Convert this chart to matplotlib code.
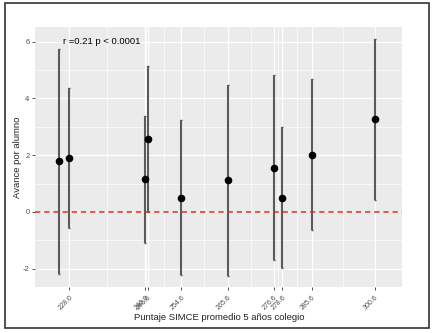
import matplotlib.pyplot as plt
from matplotlib.patches import Rectangle
import numpy as np

plt.rcParams['font.family'] = ['Liberation Sans', 'DejaVu Sans']
plt.rcParams['axes.unicode_minus'] = False

# data
simce = [225.5, 228.0, 246.0, 246.6, 254.6, 265.6, 276.6, 278.6, 285.6, 300.6]
avance = [1.78, 1.89, 1.15, 2.58, 0.49, 1.11, 1.56, 0.49, 2.01, 3.26]
ci_low = [-2.18, -0.56, -1.08, 0.0, -2.24, -2.27, -1.71, -1.98, -0.65, 0.41]
ci_high = [5.73, 4.35, 3.39, 5.16, 3.24, 4.47, 4.82, 3.00, 4.67, 6.09]
x_ticks = [228.0, 246.0, 246.6, 254.6, 265.6, 276.6, 278.6, 285.6, 300.6]
y_ticks = [-2, 0, 2, 4, 6]

fig = plt.figure(figsize=(4.34, 3.33), dpi=100)
ax = fig.add_axes([0.0806, 0.138, 0.8464, 0.782])
ax.set_facecolor("#EBEBEB")

# ggplot-like grid
for y in y_ticks:
    ax.axhline(y, color="white", lw=0.9, zorder=0)
for y in [-1, 1, 3, 5]:
    ax.axhline(y, color="white", lw=0.45, zorder=0)
for x in x_ticks:
    ax.axvline(x, color="white", lw=0.9, zorder=0)
for a, b in zip(x_ticks[:-1], x_ticks[1:]):
    ax.axvline((a + b) / 2, color="white", lw=0.45, zorder=0)

lo = np.array(avance) - np.array(ci_low)
hi = np.array(ci_high) - np.array(avance)
ax.errorbar(simce, avance, yerr=[lo, hi], fmt="none", ecolor="#5a5a5a",
            elinewidth=1.5, capsize=1, capthick=1, zorder=2)
ax.scatter(simce, avance, s=20, color="black", zorder=3)

ax.axhline(0, color="#E8281E", lw=1.1, ls=(0, (3.5, 2.5)), zorder=2)

ax.text(226.5, 6.0, "r =0.21 p < 0.0001", fontsize=6.8, va="center", ha="left")

ax.set_xlim(219.85, 307.1)
ax.set_ylim(-2.65, 6.53)
ax.set_yticks(y_ticks)
ax.set_yticklabels([str(v) for v in y_ticks], fontsize=5.5, color="#4D4D4D")
ax.set_xticks(x_ticks)
ax.set_xticklabels(["%.1f" % v for v in x_ticks], fontsize=5, color="#4D4D4D",
                   rotation=45, ha="right", va="top", rotation_mode="anchor")
ax.tick_params(axis="both", length=2, color="#333333", width=0.6, pad=2)
ax.tick_params(axis="x", pad=3)
for s in ax.spines.values():
    s.set_visible(False)

ax.set_ylabel("Avance por alumno", fontsize=6.8, color="#222222")
ax.yaxis.set_label_coords(-0.035, 0.5)
fig.text(0.505, 0.048, "Puntaje SIMCE promedio 5 años colegio", fontsize=6.8,
         color="#222222", ha="center", va="center")

# outer frame
fig.patches.append(Rectangle((0.012, 0.015), 0.977, 0.975, transform=fig.transFigure,
                             fill=False, edgecolor="#333333", lw=1.2))

fig.savefig("out.png", dpi=100)
